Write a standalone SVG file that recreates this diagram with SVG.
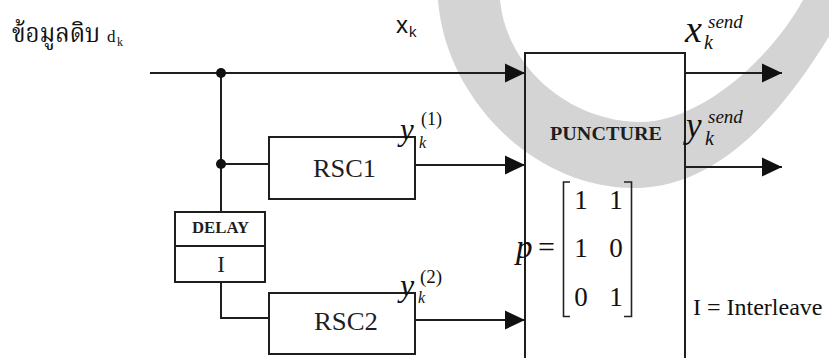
<svg xmlns="http://www.w3.org/2000/svg" width="829" height="358" viewBox="0 0 829 358">
<style>
.ln{fill:none;stroke:#1e1e1e;stroke-width:2}
.bx{fill:none;stroke:#1e1e1e;stroke-width:2}
.mono{font-family:"Liberation Serif","Times New Roman",serif;fill:#1e1e1e}
.ser{font-family:"Liberation Serif","Times New Roman",serif;fill:#111}
.it{font-style:italic}
.sans{font-family:"Liberation Sans",Arial,sans-serif;fill:#111}
</style>
<defs>
<marker id="arr" markerWidth="20" markerHeight="20" refX="20" refY="10" orient="auto" markerUnits="userSpaceOnUse">
<path d="M0,0.5 L20,10 L0,19.5 Z" fill="#111"/>
</marker>
</defs>
<rect x="0" y="0" width="829" height="358" fill="#fff"/>
<path id="watermark" d="M438,0 C445,95 530,188 635,188 C720,188 790,110 850,0 L803,0 C770,60 700,122 640,122 C575,122 507,72 500,0 Z" fill="#d4d4d4"/>

<g id="connectors">
<path class="ln" d="M150,73 H525" marker-end="url(#arr)"/>
<path class="ln" d="M221,73 V212"/>
<path class="ln" d="M221,164 H269"/>
<path class="ln" d="M221,282 V318 H269"/>
<path class="ln" d="M415,165 H525" marker-end="url(#arr)"/>
<path class="ln" d="M415,320 H525" marker-end="url(#arr)"/>
<path class="ln" d="M685,73 H782" marker-end="url(#arr)"/>
<path class="ln" d="M685,167 H782" marker-end="url(#arr)"/>
<circle cx="221" cy="73" r="5" fill="#111"/>
<circle cx="221" cy="164" r="5" fill="#111"/>
</g>

<g id="input-label">
<text x="12" y="42" font-family="'Noto Serif Thai','Noto Sans Thai','DejaVu Serif','DejaVu Sans',serif" font-size="26" fill="#111" textLength="88" lengthAdjust="spacingAndGlyphs">ข้อมูลดิบ</text>
<text class="ser" x="107" y="42" font-size="17">d</text>
<text class="ser" x="117" y="46" font-size="12">k</text>
</g>

<g id="xk-label">
<text class="sans" x="396" y="33" font-size="24">x</text>
<text class="sans" x="409" y="37" font-size="15">k</text>
</g>

<g id="rsc1">
<rect class="bx" x="269" y="137" width="146" height="62"/>
<text class="mono" x="313" y="177" font-size="26" textLength="63" lengthAdjust="spacingAndGlyphs">RSC1</text>
</g>

<g id="rsc2">
<rect class="bx" x="269" y="293" width="146" height="61"/>
<text class="mono" x="314" y="330" font-size="26" textLength="64" lengthAdjust="spacingAndGlyphs">RSC2</text>
</g>

<g id="delay">
<rect class="bx" x="175" y="212" width="90" height="70"/>
<line class="ln" x1="175" y1="246" x2="265" y2="246"/>
<text class="mono" x="192" y="233" font-size="16" font-weight="bold" textLength="57" lengthAdjust="spacingAndGlyphs">DELAY</text>
<text class="mono" x="221" y="271.5" font-size="23" text-anchor="middle">I</text>
</g>

<g id="y1-label">
<text class="ser it" x="400" y="140" font-size="31">y</text>
<text class="ser" x="421" y="125" font-size="18">(1)</text>
<text class="ser it" x="419" y="148" font-size="16">k</text>
</g>

<g id="y2-label">
<text class="ser it" x="400" y="296" font-size="32">y</text>
<text class="ser" x="420" y="283" font-size="19">(2)</text>
<text class="ser it" x="418" y="303" font-size="16">k</text>
</g>

<g id="puncture">
<path class="bx" d="M525,360 V53 H685 V360"/>
<text class="mono" x="550" y="140" font-size="19" font-weight="bold" textLength="112" lengthAdjust="spacingAndGlyphs">PUNCTURE</text>
<text class="ser it" x="516" y="258" font-size="33">p</text>
<text class="ser" x="538" y="257" font-size="30">=</text>
<path d="M570,182 H563.5 V316.5 H570 M624,182 H631.5 V316.5 H624" fill="none" stroke="#222" stroke-width="1.6"/>
<g class="ser" font-size="27" text-anchor="middle">
<text x="581" y="209">1</text><text x="616" y="209">1</text>
<text x="581" y="257">1</text><text x="616" y="257">0</text>
<text x="581" y="306">0</text><text x="616" y="306">1</text>
</g>
</g>

<g id="xsend-label">
<text class="ser it" x="685" y="41.5" font-size="38">x</text>
<text class="ser it" x="708" y="28" font-size="19">send</text>
<text class="ser it" x="704" y="49" font-size="20">k</text>
</g>

<g id="ysend-label">
<text class="ser it" x="686" y="136.5" font-size="35">y</text>
<text class="ser it" x="708" y="123" font-size="19">send</text>
<text class="ser it" x="705" y="145" font-size="20">k</text>
</g>

<g id="legend">
<text class="ser" x="693" y="315" font-size="24">I = Interleave</text>
</g>
</svg>
